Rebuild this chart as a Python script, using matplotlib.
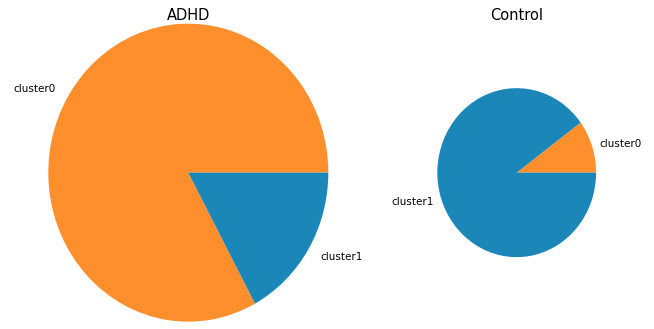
import matplotlib

matplotlib.use("Agg")
import matplotlib.pyplot as plt

# cluster shares per group
labels = ["cluster0", "cluster1"]
adhd_share = [0.829, 0.171]
control_share = [0.101, 0.899]
groups = ["ADHD", "Control"]

COLORS = ["#fe8f2c", "#1b87b8"]

fig = plt.figure(figsize=(6.54, 3.29), dpi=100)

# both axes share one scale so the smaller pie keeps its relative size
ax_w, ax_h = 350 / 654, 372.5 / 329
left_ax = fig.add_axes([13.3 / 654, -29.9 / 329, ax_w, ax_h])
right_ax = fig.add_axes([341.7 / 654, -29.9 / 329, ax_w, ax_h])

for ax, share, radius, title in zip(
    [left_ax, right_ax], [adhd_share, control_share], [1.0, 0.567], groups
):
    ax.pie(share, labels=labels, colors=COLORS, radius=radius,
           textprops={"fontsize": 7.5})
    ax.set_aspect("auto")
    ax.set_xlim(-1.25, 1.25)
    ax.set_ylim(-1.25, 1.25)
    ax.axis("off")

fig.text(188.3 / 654, 1 - 15.5 / 329, groups[0], ha="center", va="center", fontsize=10.5)
fig.text(516.7 / 654, 1 - 15.5 / 329, groups[1], ha="center", va="center", fontsize=10.5)

fig.savefig("out.png", dpi=100)
